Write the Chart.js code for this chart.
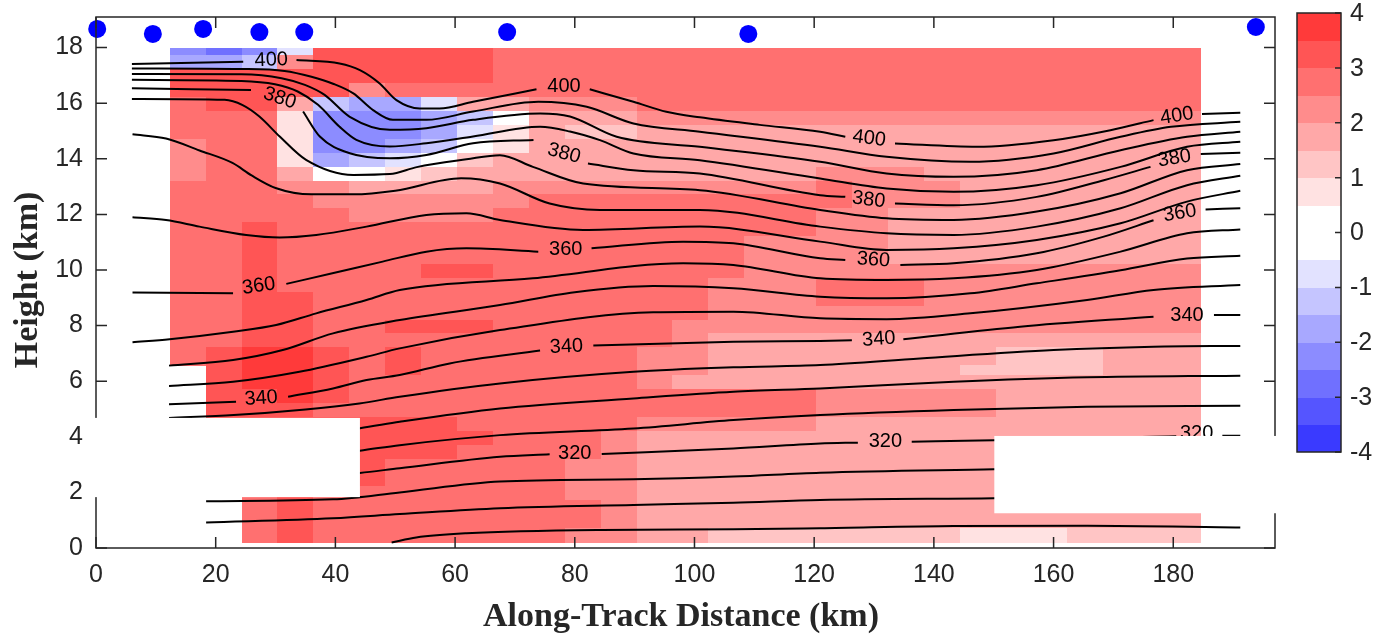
<!DOCTYPE html>
<html>
<head>
<meta charset="utf-8">
<title>Potential temperature and anomaly cross-section</title>
<script src="https://cdn.jsdelivr.net/npm/chart.js@4.4.0/dist/chart.umd.min.js"></script>
<style>
  html, body { margin: 0; padding: 0; background: #fff; }
  #wrap { width: 1383px; height: 636px; }
</style>
</head>
<body>
<div id="wrap"><canvas id="chart" width="1383" height="636"></canvas></div>
<script>
// Contour lines (potential temperature, K): x = along-track km, y = height km, null = label gap
const th400 = [[6.0,17.41],[24.6,17.49],null,[33.5,17.55],[40.7,17.43],[44.1,17.19],[47.4,16.71],[50.2,16.11],[54.1,15.81],[57.4,15.81],[63.0,16.05],[73.6,16.50],null,[82.5,16.50],[89.8,16.05],[95.3,15.69],[100.9,15.49],[110.9,15.22],[121.0,14.97],[125.2,14.79],null,[133.5,14.55],[147.2,14.43],[160.0,14.67],[169.5,15.03],[176.7,15.39],null,[184.8,15.61],[191.2,15.66]];
const th395 = [[6.0,17.25],[24.3,17.23],[31.5,17.16],[36.0,16.95],[39.6,16.70],[43.0,16.35],[46.3,15.75],[49.6,15.40],[55.2,15.40],[63.0,15.70],[73.9,16.05],[82.0,15.87],[89.8,15.27],[100.9,14.97],[121.0,14.43],[132.1,14.07],[146.1,13.89],[160.0,14.19],[171.2,14.79],[179.6,15.15],[191.2,15.33]];
const th390 = [[6.0,17.05],[24.3,17.04],[31.0,16.90],[34.9,16.66],[38.2,16.30],[42.4,15.51],[49.1,15.04],[55.2,15.10],[63.0,15.40],[74.2,15.63],[79.2,15.52],[87.0,14.79],[100.9,14.43],[121.0,13.89],[132.1,13.47],[143.3,13.35],[157.2,13.59],[171.2,14.31],[182.3,14.79],[191.2,14.97]];
const th385 = [[6.0,16.84],[24.3,16.80],[29.9,16.68],[33.7,16.42],[37.1,15.94],[40.7,15.15],[43.5,14.68],[49.1,14.44],[55.2,14.56],[63.0,14.80],[74.2,15.15],[79.2,14.98],[84.2,14.67],[89.8,14.19],[100.9,13.95],[121.0,13.29],[132.1,12.93],[143.3,12.81],[157.2,13.05],[171.2,13.71],[182.3,14.43],[191.2,14.61]];
const th380 = [[6.0,16.54],[25.9,16.47],null,[34.6,15.70],[37.4,14.80],[42.4,14.20],[49.1,14.02],[55.2,14.14],[63.0,14.56],[73.1,14.68],null,[82.2,13.83],[89.8,13.59],[100.9,13.47],[121.0,12.69],[125.2,12.63],null,[133.5,12.39],[143.3,12.33],[157.2,12.63],[168.4,13.23],[176.2,13.71],null,[184.6,14.17],[191.2,14.22]];
const th375 = [[6.0,16.15],[21.5,16.12],[24.5,15.93],[27.3,15.52],[30.7,14.80],[35.1,13.96],[43.0,13.42],[49.1,13.45],[53.6,13.70],[61.9,13.98],[67.5,14.13],[73.0,13.71],[81.4,13.11],[100.9,12.87],[121.0,12.16],[132.1,11.86],[143.3,11.80],[157.2,12.10],[171.2,12.76],[182.3,13.59],[191.2,13.81]];
const th370 = [[6.1,14.88],[11.7,14.73],[17.3,14.30],[22.8,13.85],[26.0,13.40],[30.0,12.95],[36.0,12.72],[43.0,12.72],[50.0,12.85],[61.0,13.30],[67.5,13.11],[75.8,12.39],[84.2,12.16],[100.9,12.16],[121.0,11.56],[132.1,11.32],[143.3,11.26],[157.2,11.56],[171.2,12.22],[182.3,13.05],[191.2,13.39]];
const th365 = [[6.1,11.90],[11.7,11.80],[17.3,11.56],[25.1,11.26],[30.7,11.17],[36.8,11.26],[45.2,11.56],[55.2,11.98],[61.9,12.04],[67.5,11.80],[81.4,11.44],[100.9,11.56],[121.0,11.02],[132.1,10.72],[143.3,10.78],[157.2,11.08],[171.2,11.68],[182.3,12.46],[191.2,12.85]];
const th360 = [[6.1,9.19],[22.9,9.16],null,[31.8,9.50],[39.5,9.88],[47.9,10.30],[55.2,10.66],[61.9,10.78],[73.9,10.66],null,[82.8,10.78],[98.1,11.02],[106.5,10.96],[121.0,10.42],[125.2,10.36],null,[134.4,10.18],[143.3,10.24],[157.2,10.60],[168.4,11.20],[176.7,11.79],null,[185.4,12.18],[191.2,12.22]];
const th355 = [[6.1,7.40],[12.3,7.51],[22.9,7.78],[30.1,8.02],[36.8,8.44],[45.2,8.92],[50.75,9.28],[73.0,9.70],[98.1,10.24],[106.5,10.18],[121.0,9.70],[132.1,9.64],[143.3,9.70],[157.2,10.00],[171.2,10.66],[182.3,11.32],[191.2,11.46]];
const th350 = [[12.2,6.56],[22.9,6.76],[31.2,7.12],[39.6,7.72],[50.75,8.20],[67.5,8.74],[80.0,9.20],[93.1,9.42],[106.5,9.34],[121.0,9.04],[132.1,8.98],[146.1,9.16],[157.2,9.52],[171.2,9.99],[182.3,10.41],[191.2,10.51]];
const th345 = [[12.2,5.83],[22.9,5.98],[34.0,6.34],[45.2,6.88],[50.75,7.18],[67.5,7.84],[93.1,8.48],[106.5,8.50],[121.0,8.26],[132.1,8.23],[146.1,8.44],[165.6,8.92],[176.7,9.28],[191.2,9.46]];
const th340 = [[12.2,5.17],[23.4,5.26],null,[32.1,5.44],[39.6,5.74],[45.2,6.04],[50.75,6.22],[59.1,6.64],[74.2,7.10],null,[83.1,7.28],[106.5,7.42],[121.0,7.45],[126.3,7.47],null,[134.9,7.51],[154.4,7.96],[176.7,8.32],null,[186.8,8.38],[191.2,8.38]];
const th335 = [[12.2,4.68],[23.0,4.78],[35.0,4.98],[44.0,5.20],[50.75,5.44],[67.5,5.92],[89.8,6.34],[106.5,6.50],[121.0,6.58],[137.7,6.82],[160.0,7.12],[176.7,7.24],[191.2,7.27]];
const th330 = [[12.2,3.75],[30.0,3.95],[44.1,4.31],[50.75,4.54],[67.5,5.02],[89.8,5.38],[106.5,5.62],[121.0,5.74],[143.3,5.98],[165.6,6.14],[191.2,6.20]];
const th325 = [[12.2,2.90],[30.0,3.15],[44.1,3.50],[50.75,3.70],[67.5,4.06],[89.8,4.30],[106.5,4.60],[121.0,4.78],[143.3,4.96],[165.6,5.08],[191.2,5.12]];
const th320 = [[18.4,2.20],[30.0,2.40],[44.1,2.70],[50.75,2.87],[67.5,3.28],[75.8,3.37],null,[84.5,3.38],[106.5,3.58],[121.0,3.76],[127.3,3.79],null,[136.3,3.82],[150.0,3.88],[176.7,4.00],[180.5,4.02],null,[188.2,4.04],[191.2,4.04]];
const th315 = [[18.4,1.68],[39.6,1.75],[50.75,2.00],[67.5,2.39],[89.8,2.47],[106.5,2.57],[121.0,2.71],[150.0,2.83],[191.2,2.99]];
const th310 = [[18.4,0.92],[39.6,1.07],[50.75,1.22],[67.5,1.43],[89.8,1.55],[106.5,1.63],[121.0,1.73],[150.0,1.79],[191.2,1.91]];
const th305 = [[49.4,0.20],[53.5,0.38],[61.9,0.53],[84.5,0.65],[106.5,0.67],[121.0,0.71],[143.3,0.79],[165.6,0.80],[191.2,0.74]];

const contourLines = [th400, th395, th390, th385, th380, th375, th370, th365, th360, th355,
                      th350, th345, th340, th335, th330, th325, th320, th315, th310, th305];

// Inline contour labels
const labelText  = ['400','380','360','340', '400','380','360','340','320', '400','380','360','340','320', '400','380','360','340','320'];
const labelX     = [29.3, 30.7, 27.2, 27.6,  78.2, 78.2, 78.5, 78.6, 80.0,  129.2,129.1,129.9,130.8,131.9,  180.6,180.2,181.1,182.3,183.9];
const labelY     = [17.55,16.18,9.42, 5.38,  16.60,14.19,10.72,7.24, 3.40,  14.73,12.52,10.36,7.51, 3.82,   15.54,14.01,12.04,8.38, 4.12];
const labelAngle = [-2,   18,   -8,   -4,    0,    15,   0,    -3,   0,     7,    7,    4,    -4,   0,      -9,   -9,   -9,   0,    0];

// Aircraft positions along the top
const dotX = [0.2, 9.5, 17.9, 27.3, 34.8, 68.7, 109.0, 193.8];
const dotY = [18.67, 18.49, 18.67, 18.56, 18.56, 18.56, 18.49, 18.74];

// Anomaly field: cell edges (km) and band index per cell (hex 0-f, '.' = no data), rows listed top to bottom
const fieldXEdges = [12.4,18.4,24.4,30.4,36.4,42.4,48.4,54.4,60.4,66.4,72.4,78.4,84.4,90.4,96.4,102.4,108.4,114.4,120.4,126.4,132.4,138.4,144.4,150.4,156.4,162.4,168.4,174.4,180.4,184.6];
const fieldYEdges = [0.2,0.7,1.2,1.7,2.2,2.7,3.2,3.7,4.2,4.7,5.2,5.7,6.2,6.56,7.2,7.7,8.2,8.7,9.2,9.7,10.2,10.7,11.2,11.7,12.2,12.7,13.2,13.7,14.2,14.7,15.2,15.7,16.2,16.7,17.2,17.7,17.95];
const fieldRows = [
  '3236eeeee' + 'dddddddddd' + 'dddddddddd',
  '445ceeeee' + 'dddddddddd' + 'dddddddddd',
  'eeeeeeeee' + 'dddddddddd' + 'dddddddddd',
  'eeeeecddd' + 'dddddddddd' + 'dddddddddd',
  'deeb5446bbccc' + 'dddddddd' + 'dddddddd',
  'ddd9333458bbb' + 'cccccccc' + 'cccccccc',
  'ddd9333469baa' + 'bbbbbbbb' + 'bbbbbbbb',
  'cdd9334589bbb' + 'bbbbbbbb' + 'bbbbbbbb',
  'cdd94568abbbb' + 'bbbbbbbb' + 'bbbbbbbb',
  'cddb889abbbbb' + 'bbbbb' + 'ccc' + 'bbbbbbbb',
  'dddccbbbb' + 'ccccccccc' + 'd' + 'ccc' + 'bbbbbbb',
  'ddddccccc' + 'c' + 'dddddddd' + 'd' + 'ccc' + 'bbbbbbb',
  'ddddd' + 'cccc' + 'ddddddddd' + 'cc' + 'bbbbbbbbb',
  'ddedddddd' + 'ddddddddd' + 'cc' + 'bbbbbbbbb',
  'ddedddddd' + 'ddddddd' + 'cc' + 'cc' + 'bbbbbbbbb',
  'ddedddddd' + 'ddddddd' + 'cc' + 'cc' + 'bbbbbbbbb',
  'ddeddddee' + 'ddddddd' + 'cc' + 'ccccccccccc',
  'ddedddddd' + 'dddddd' + 'ccc' + 'ddd' + 'cccccccc',
  'ddeeddddd' + 'dddddd' + 'ccc' + 'ddd' + 'cccccccc',
  'ddeeddddd' + 'dddddd' + 'ccc' + 'ccc' + 'cccccccc',
  'ddeeddeee' + 'ddddd' + 'cccc' + 'ccccccccccc',
  'ddeeddddd' + 'ddddd' + 'c' + 'bbb' + 'bbbbbbbbbbb',
  'deffededd' + 'dddd' + 'cc' + 'bbb' + 'bbbbb' + 'aaa' + 'bbb',
  '.effededd' + 'dddd' + 'cc' + 'bbb' + 'bbbb' + 'aaaa' + 'bbb',
  '.effedddd' + 'dddd' + 'c' + 'bbbb' + 'bbbbbbbbbbb',
  '.eefedddd' + 'ddddddddd' + 'ccccc' + 'bbbbbb',
  '.eeeddddd' + 'ddddddddd' + 'ccccc' + 'bbbbbb',
  '.eeeeeeed' + 'dddd' + 'ccccc' + 'bbbbbbbbbbb',
  '.eeeeeeee' + 'ddd' + 'c' + 'bbbbb' + 'bbbbbbbbbbb',
  '.eeeeeeed' + 'ddd' + 'c' + 'bbbbb' + 'bbbbbbbbbbb',
  '.eeeeeddd' + 'dd' + 'cc' + 'bbbbb' + 'bbbbbbbbbbb',
  '.eeeeeddd' + 'dd' + 'cc' + 'bbbbb' + 'bbbbbbbbbbb',
  '..deddddd' + 'dd' + 'cc' + 'bbbbb' + 'bbbbbbbbbbb',
  '..deddddd' + 'ddd' + 'c' + 'bbbbb' + 'bbbbbbbbbbb',
  '..deddddd' + 'ddd' + 'c' + 'bbbbb' + 'bbbbbbbbbbb',
  '..deddddd' + 'dd' + 'cc' + 'bb' + 'aaa' + 'aaaa' + '999' + 'aaaa'
];

// Colour bar: 16 bands from -4 to 4
const bandColors = ['#3a3aff','#5555ff','#7070ff','#8c8cff','#a8a8ff','#c5c5ff','#e2e2ff','#ffffff',
                    '#ffffff','#ffe2e2','#ffc5c5','#ffa8a8','#ff8c8c','#ff7070','#ff5555','#ff3a3a'];
const bandMin = -4, bandMax = 4;
const colorbarTicks = [4, 3, 2, 1, 0, -1, -2, -3, -4];

// White cover-up boxes in the original figure (x0, x1, y0, y1 in km)
const blankAreas = [[-0.3, 44.1, 1.83, 4.68], [150.1, 197.3, 1.25, 4.03]];

const axisColor = '#262626';
const tickFont = '25px "Liberation Sans", Arial, sans-serif';

const fieldPlugin = {
  id: 'field',
  beforeDatasetsDraw(chart) {
    const {ctx, scales: {x, y}} = chart;
    const nRows = fieldRows.length;
    ctx.save();
    fieldRows.forEach((row, i) => {
      const r = nRows - 1 - i;
      const yTop = Math.floor(y.getPixelForValue(fieldYEdges[r + 1]));
      const yBot = Math.ceil(y.getPixelForValue(fieldYEdges[r]));
      for (let c = 0; c < row.length; c++) {
        if (row[c] === '.') continue;
        const x0 = Math.floor(x.getPixelForValue(fieldXEdges[c]));
        const x1 = Math.ceil(x.getPixelForValue(fieldXEdges[c + 1]));
        ctx.fillStyle = bandColors[parseInt(row[c], 16)];
        ctx.fillRect(x0, yTop, x1 - x0, yBot - yTop);
      }
    });
    ctx.restore();
  }
};

const labelPlugin = {
  id: 'contourLabels',
  afterDatasetsDraw(chart) {
    const {ctx, scales: {x, y}} = chart;
    ctx.save();
    ctx.font = '20px "Liberation Sans", Arial, sans-serif';
    ctx.fillStyle = '#000';
    ctx.textAlign = 'center';
    ctx.textBaseline = 'middle';
    labelText.forEach((t, i) => {
      ctx.save();
      ctx.translate(x.getPixelForValue(labelX[i]), y.getPixelForValue(labelY[i]));
      ctx.rotate(labelAngle[i] * Math.PI / 180);
      ctx.fillText(t, 0, 0);
      ctx.restore();
    });
    ctx.restore();
  }
};

const framePlugin = {
  id: 'frame',
  afterDraw(chart) {
    const {ctx, chartArea: a, scales: {x, y}} = chart;
    ctx.save();
    // box and inward ticks
    ctx.strokeStyle = axisColor;
    ctx.lineWidth = 1.5;
    ctx.strokeRect(a.left, a.top, a.right - a.left, a.bottom - a.top);
    ctx.beginPath();
    for (let v = 0; v <= 180; v += 20) {
      const px = x.getPixelForValue(v);
      ctx.moveTo(px, a.bottom); ctx.lineTo(px, a.bottom - 11);
      ctx.moveTo(px, a.top); ctx.lineTo(px, a.top + 11);
    }
    for (let v = 0; v <= 18; v += 2) {
      const py = y.getPixelForValue(v);
      ctx.moveTo(a.left, py); ctx.lineTo(a.left + 11, py);
      ctx.moveTo(a.right, py); ctx.lineTo(a.right - 11, py);
    }
    ctx.stroke();

    // cover-up boxes
    ctx.fillStyle = '#fff';
    blankAreas.forEach(b => {
      const x0 = x.getPixelForValue(b[0]), x1 = x.getPixelForValue(b[1]);
      const y0 = y.getPixelForValue(b[3]), y1 = y.getPixelForValue(b[2]);
      ctx.fillRect(x0, y0, x1 - x0, y1 - y0);
    });

    // axis titles
    ctx.fillStyle = axisColor;
    ctx.font = 'bold 34px "Liberation Serif", "Times New Roman", serif';
    ctx.textAlign = 'center';
    ctx.textBaseline = 'alphabetic';
    ctx.fillText('Along-Track Distance (km)', 681, 626);
    ctx.save();
    ctx.translate(37, 280);
    ctx.rotate(-Math.PI / 2);
    ctx.fillText('Height (km)', 0, 0);
    ctx.restore();

    // colour bar
    const cbL = a.right + 22, cbR = a.right + 66, cbT = 13, cbB = 452;
    const per = (cbB - cbT) / (bandMax - bandMin);
    bandColors.forEach((col, i) => {
      const v0 = bandMin + i * 0.5;
      const yb = cbB - (v0 - bandMin) * per;
      const yt = cbB - (v0 + 0.5 - bandMin) * per;
      ctx.fillStyle = col;
      ctx.fillRect(cbL, Math.floor(yt), cbR - cbL, Math.ceil(yb) - Math.floor(yt));
    });
    ctx.strokeStyle = axisColor;
    ctx.lineWidth = 1.5;
    ctx.strokeRect(cbL, cbT, cbR - cbL, cbB - cbT);
    ctx.beginPath();
    ctx.fillStyle = axisColor;
    ctx.font = tickFont;
    ctx.textAlign = 'left';
    ctx.textBaseline = 'middle';
    colorbarTicks.forEach(v => {
      const py = cbB - (v - bandMin) * per;
      ctx.moveTo(cbR, py); ctx.lineTo(cbR - 6, py);
      ctx.fillText(String(v), cbR + 9, py + 1);
    });
    ctx.stroke();
    ctx.restore();
  }
};

const datasets = contourLines.map(line => ({
  type: 'scatter',
  showLine: true,
  data: line.map((p, i) => p ? {x: p[0], y: p[1]} : {x: line[i - 1][0], y: null}),
  borderColor: '#000',
  borderWidth: 2,
  pointRadius: 0,
  cubicInterpolationMode: 'monotone',
  spanGaps: false,
  fill: false
}));

datasets.push({
  type: 'scatter',
  data: dotX.map((v, i) => ({x: v, y: dotY[i]})),
  pointRadius: 9,
  pointBackgroundColor: '#0000ff',
  pointBorderColor: '#0000ff',
  pointBorderWidth: 0,
  showLine: false,
  clip: false
});

new Chart(document.getElementById('chart'), {
  type: 'scatter',
  data: { datasets: datasets },
  options: {
    responsive: false,
    animation: false,
    events: [],
    layout: { padding: { top: 17, right: 108, bottom: 0, left: 0 } },
    plugins: { legend: { display: false }, tooltip: { enabled: false } },
    scales: {
      x: {
        type: 'linear', min: 0, max: 197,
        afterFit: s => { s.height = 88; s.paddingLeft = 0; s.paddingRight = 0; },
        grid: { display: false, drawTicks: false },
        border: { display: false },
        ticks: { stepSize: 20, includeBounds: false, autoSkip: false, maxRotation: 0,
                 padding: 12, color: axisColor, font: { family: '"Liberation Sans", Arial, sans-serif', size: 25 } }
      },
      y: {
        type: 'linear', min: 0, max: 19.1,
        afterFit: s => { s.width = 96; s.paddingTop = 0; s.paddingBottom = 0; },
        grid: { display: false, drawTicks: false },
        border: { display: false },
        ticks: { stepSize: 2, includeBounds: false, autoSkip: false,
                 padding: 13, color: axisColor, font: { family: '"Liberation Sans", Arial, sans-serif', size: 25 } }
      }
    }
  },
  plugins: [fieldPlugin, labelPlugin, framePlugin]
});
</script>
</body>
</html>
